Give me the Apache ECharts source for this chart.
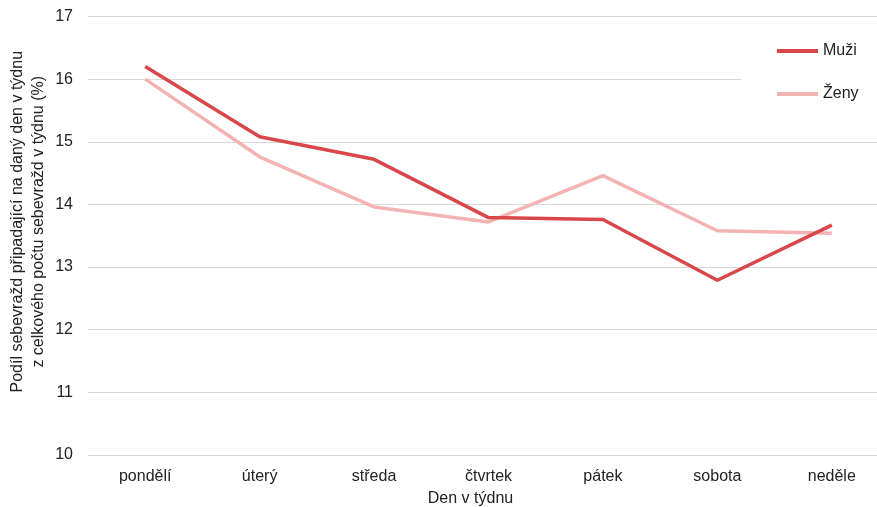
<!DOCTYPE html>
<html>
<head>
<meta charset="utf-8">
<script src="https://cdn.jsdelivr.net/npm/echarts@6/dist/echarts.min.js"></script>
<style>html,body{margin:0;padding:0;background:#fff;}#c{width:877px;height:507px;}</style>
</head>
<body>
<div id="c"></div>
<script>
const categories = ['pondělí', 'úterý', 'středa', 'čtvrtek', 'pátek', 'sobota', 'neděle'];
const muzi = [16.2, 15.08, 14.72, 13.79, 13.76, 12.79, 13.67];
const zeny = [16.0, 14.76, 13.96, 13.72, 14.46, 13.58, 13.54];
const yTicks = [10, 11, 12, 13, 14, 15, 16, 17];

const font = '"Liberation Sans", Arial, sans-serif';
const chart = echarts.init(document.getElementById('c'), null, {renderer: 'canvas'});
chart.setOption({
  animation: false,
  backgroundColor: '#fff',
  textStyle: {fontFamily: font},
  grid: {left: 88, right: -12, top: 16.5, bottom: 52, outerBoundsMode: 'none', containLabel: false},
  legend: {
    orient: 'vertical',
    left: 741,
    top: 24,
    padding: [19, 30, 19, 36],
    backgroundColor: '#fff',
    icon: 'rect',
    itemWidth: 41,
    itemHeight: 4,
    itemGap: 27,
    textStyle: {fontSize: 16, color: '#222', fontFamily: font},
    data: ['Muži', 'Ženy']
  },
  xAxis: {
    type: 'category',
    data: categories,
    boundaryGap: true,
    axisLine: {show: false},
    axisTick: {show: false},
    axisLabel: {fontSize: 16, color: '#222', margin: 14, fontFamily: font},
    name: 'Den v týdnu',
    nameLocation: 'middle',
    nameGap: 36,
    nameMoveOverlap: false,
    nameTextStyle: {fontSize: 16, color: '#222', padding: [0, 36, 0, 0], fontFamily: font}
  },
  yAxis: {
    type: 'value',
    min: yTicks[0],
    max: yTicks[yTicks.length - 1],
    interval: 1,
    axisLine: {show: false},
    axisTick: {show: false},
    splitLine: {lineStyle: {color: '#d9d9d9', width: 1}},
    axisLabel: {fontSize: 16, color: '#222', margin: 15, fontFamily: font},
    name: 'Podíl sebevražd připadající na daný den v týdnu\nz celkového počtu sebevražd v týdnu (%)',
    nameLocation: 'middle',
    nameGap: 39,
    nameMoveOverlap: false,
    nameTextStyle: {fontSize: 16, color: '#222', lineHeight: 21, padding: [0, 0, 0, 28], fontFamily: font}
  },
  series: [
    {name: 'Muži', type: 'line', data: muzi, showSymbol: false, symbol: 'none', color: '#d9474a', lineStyle: {width: 3.5, color: '#d9474a'}, z: 3},
    {name: 'Ženy', type: 'line', data: zeny, showSymbol: false, symbol: 'none', color: '#f4b3b3', lineStyle: {width: 3.5, color: '#f4b3b3'}, z: 2}
  ]
});
</script>
</body>
</html>
